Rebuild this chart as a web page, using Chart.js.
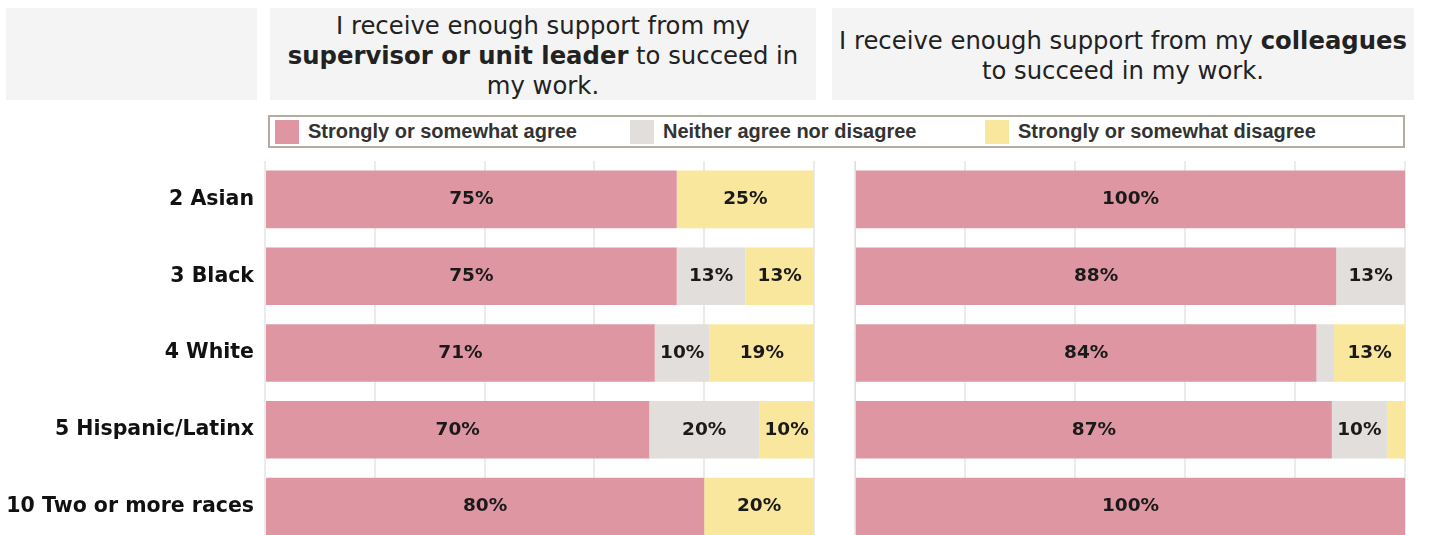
<!DOCTYPE html>
<html>
<head>
<meta charset="utf-8">
<script src="https://cdn.jsdelivr.net/npm/chart.js@4.4.1/dist/chart.umd.min.js"></script>
<style>
      html, body { margin: 0; padding: 0; background: #fff; }
      body { width: 1435px; height: 535px; overflow: hidden; position: relative; font-family: "DejaVu Sans", sans-serif; color: #222; }
      .box { position: absolute; background: #f4f4f4; display: flex; align-items: center; justify-content: center; text-align: center; font-size: 24.3px; line-height: 30px; box-sizing: border-box; padding-top: 4px; }
      .legend { position: absolute; left: 268px; top: 115px; width: 1133px; height: 29px; border: 2px solid #b2ad9f; font-family: "Liberation Sans", Arial, sans-serif; font-weight: bold; font-size: 20px; color: #333; }
      .item { position: absolute; top: 2px; height: 24px; line-height: 25px; }
      .swatch { position: absolute; left: 0; top: 1px; width: 24px; height: 24px; }
      .item span { position: absolute; left: 33px; white-space: nowrap; }
      canvas { position: absolute; }
</style>
</head>
<body>
<div class="box" style="left:6px; top:8px; width:251px; height:92px;"></div>
<div class="box" style="left:270px; top:8px; width:546px; height:92px;">
      <div>I receive enough support from my<br><b>supervisor or unit leader</b> to succeed in<br>my work.</div>
</div>
<div class="box" style="left:832px; top:8px; width:582px; height:92px;">
      <div>I receive enough support from my <b>colleagues</b><br>to succeed in my work.</div>
</div>
<div class="legend" id="legend"></div>

<canvas id="chartSupervisor" width="824" height="386" style="left:0; top:159px;"></canvas>
<canvas id="chartColleagues" width="580" height="386" style="left:835px; top:159px;"></canvas>

<script>
const groups = ["2 Asian", "3 Black", "4 White", "5 Hispanic/Latinx", "10 Two or more races"];
const responses = ["Strongly or somewhat agree", "Neither agree nor disagree", "Strongly or somewhat disagree"];
const colors = ["#de97a2", "#e1dedb", "#f9e79e"];

// supervisor or unit leader
const supAgree = [75, 75, 71, 70, 80];
const supNeither = [0, 12.5, 10, 20, 0];
const supDisagree = [25, 12.5, 19, 10, 20];

// colleagues
const colAgree = [100, 87.5, 83.9, 86.7, 100];
const colNeither = [0, 12.5, 3.2, 10, 0];
const colDisagree = [0, 0, 12.9, 3.3, 0];

const xTicks = [0, 20, 40, 60, 80, 100];

// --- legend ---
function renderLegend() {
      const legend = document.getElementById("legend");
      responses.forEach((label, i) => {
            const item = document.createElement("div");
            item.className = "item";
            item.style.left = 5 + i * 355 + "px";
            item.innerHTML = '<div class="swatch" style="background:' + colors[i] + '"></div><span>' + label + "</span>";
            legend.appendChild(item);
      });
}

const barLabels = {
      id: "barLabels",
      afterDatasetsDraw(chart) {
            const ctx = chart.ctx;
            ctx.save();
            ctx.font = "bold 18.5px 'DejaVu Sans', sans-serif";
            ctx.fillStyle = "#1a1a1a";
            ctx.textAlign = "center";
            ctx.textBaseline = "middle";
            chart.data.datasets.forEach((ds, di) => {
                  const meta = chart.getDatasetMeta(di);
                  meta.data.forEach((bar, i) => {
                        const v = ds.data[i];
                        if (v < 6) return;
                        const x = (bar.x + bar.base) / 2;
                        ctx.fillText(Math.round(v) + "%", x, bar.y);
                  });
            });
            ctx.restore();
      },
};

function renderChart(id, values, showLabels, axisWidth) {
      const ctx = document.getElementById(id);

      new Chart(ctx, {
            type: "bar",
            data: {
                  labels: groups,
                  datasets: responses.map((label, i) => ({
                        label: label,
                        data: values[i],
                        backgroundColor: colors[i],
                        borderWidth: 0,
                        barPercentage: 1,
                        categoryPercentage: 0.75,
                  })),
            },
            options: {
                  indexAxis: "y",
                  responsive: false,
                  animation: false,
                  layout: { padding: { top: 2, right: 10, bottom: 0, left: 0 } },
                  plugins: {
                        legend: { display: false },
                        tooltip: { enabled: false },
                  },
                  scales: {
                        x: {
                              stacked: true,
                              min: 0,
                              max: 100,
                              z: 1,
                              afterBuildTicks: (axis) => {
                                    axis.ticks = xTicks.map((v) => ({ value: v }));
                              },
                              ticks: { display: false },
                              grid: { color: "rgba(0,0,0,0.08)", lineWidth: 2, drawTicks: false },
                              border: { display: false },
                        },
                        y: {
                              stacked: true,
                              afterFit: (axis) => {
                                    axis.width = axisWidth;
                                    axis.paddingTop = 0;
                                    axis.paddingBottom = 0;
                              },
                              ticks: {
                                    display: showLabels,
                                    padding: 11,
                                    color: "#111",
                                    font: { family: "'DejaVu Sans', sans-serif", size: 20.5, weight: "bold" },
                              },
                              grid: { display: false, drawTicks: false },
                              border: { display: !showLabels, color: "#ddd", dash: [3, 3] },
                        },
                  },
            },
            plugins: [barLabels],
      });
}

renderLegend();
renderChart("chartSupervisor", [supAgree, supNeither, supDisagree], true, 265);
renderChart("chartColleagues", [colAgree, colNeither, colDisagree], false, 20);
</script>
</body>
</html>
